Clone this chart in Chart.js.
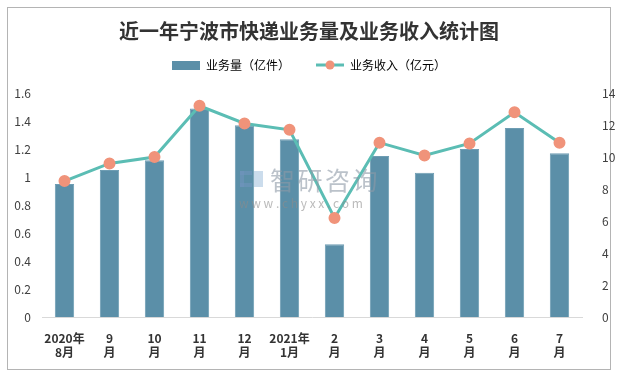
<!DOCTYPE html>
<html>
<head>
<meta charset="utf-8">
<script src="https://cdn.jsdelivr.net/npm/chart.js@4/dist/chart.umd.min.js"></script>
<style>
  body { margin: 0; background: #fff; }
  #wrap { width: 618px; height: 377px; position: relative; }
</style>
</head>
<body>
<div id="wrap"><canvas id="chart"></canvas></div>
<script>
const months = [
    ["2020年", "8月"], ["9", "月"], ["10", "月"], ["11", "月"], ["12", "月"],
    ["2021年", "1月"], ["2", "月"], ["3", "月"], ["4", "月"], ["5", "月"], ["6", "月"], ["7", "月"]
];
const volume = [0.95, 1.05, 1.12, 1.49, 1.37, 1.27, 0.52, 1.15, 1.03, 1.2, 1.35, 1.17];   // 业务量（亿件）
const revenue = [8.5, 9.6, 10.0, 13.2, 12.1, 11.7, 6.2, 10.9, 10.1, 10.85, 12.8, 10.9]; // 业务收入（亿元）

const fontFamily = "'Noto Sans CJK SC', 'Noto Sans', sans-serif";
const barColor = "#5b8fa8";
const lineColor = "#5bbdb4";
const dotColor = "#f0937a";

// legend icons
const barIcon = document.createElement("canvas");
barIcon.width = 28; barIcon.height = 9;
barIcon.getContext("2d").fillStyle = barColor;
barIcon.getContext("2d").fillRect(0, 0, 28, 9);

const lineIcon = document.createElement("canvas");
lineIcon.width = 28; lineIcon.height = 10;
(() => {
    const c = lineIcon.getContext("2d");
    c.strokeStyle = lineColor;
    c.lineWidth = 3;
    c.beginPath(); c.moveTo(0, 5); c.lineTo(28, 5); c.stroke();
    c.fillStyle = dotColor;
    c.beginPath(); c.arc(14, 5, 4.5, 0, Math.PI * 2); c.fill();
})();

// outer frame + watermark, legend height/position tweaks
const decor = {
    id: "decor",
    beforeInit(chart) {
        const fit = chart.legend.fit;
        chart.legend.fit = function () {
            fit.call(this);
            this.height = 50;
        };
    },
    afterLayout(chart) {
        chart.legend.top -= 10;
        chart.legend.bottom -= 10;
    },
    beforeDraw(chart) {
        const ctx = chart.ctx;
        ctx.save();
        ctx.fillStyle = "#fff";
        ctx.fillRect(0, 0, chart.width, chart.height);
        ctx.strokeStyle = "#b4b4b4";
        ctx.lineWidth = 1;
        ctx.strokeRect(7.5, 7.5, chart.width - 15, chart.height - 15);
        ctx.restore();
    },
    afterDatasetsDraw(chart) {
        const ctx = chart.ctx;
        ctx.save();
        ctx.globalAlpha = 0.6;
        ctx.fillStyle = "#8e9aa6";
        ctx.font = "25px " + fontFamily;
        ctx.textBaseline = "middle";
        ["智", "研", "咨", "询"].forEach((ch, i) => ctx.fillText(ch, 270 + i * 27.5, 180));
        ctx.font = "12px " + fontFamily;
        ctx.fillStyle = "#8c8c8c";
        ctx.fillText("w w w . c h y x x . c o m", 239, 203);
        ctx.fillStyle = "#6f95bd";
        ctx.fillRect(240, 171, 4, 16);
        ctx.fillRect(240, 171, 12, 4);
        ctx.fillRect(240, 183, 12, 4);
        ctx.fillStyle = "#a9c4e0";
        ctx.fillRect(254, 171, 9, 16);
        ctx.restore();
    }
};

new Chart(document.getElementById("chart"), {
    data: {
        labels: months,
        datasets: [
            {
                type: "line",
                label: "业务收入（亿元）",
                data: revenue,
                yAxisID: "y1",
                borderColor: lineColor,
                backgroundColor: dotColor,
                borderWidth: 3,
                pointRadius: 4.5,
                pointBackgroundColor: dotColor,
                pointBorderColor: dotColor,
                tension: 0,
                order: 0
            },
            {
                type: "bar",
                label: "业务量（亿件）",
                data: volume,
                yAxisID: "y",
                backgroundColor: barColor,
                borderColor: "#6e9db3",
                borderWidth: 1,
                barPercentage: 0.43,
                categoryPercentage: 1,
                order: 1
            }
        ]
    },
    options: {
        responsive: true,
        maintainAspectRatio: false,
        animation: false,
        layout: { padding: { top: 10, bottom: 11, left: 0, right: 0 } },
        plugins: {
            title: {
                display: true,
                text: "近一年宁波市快递业务量及业务收入统计图",
                color: "#333",
                font: { family: fontFamily, size: 20, weight: "bold" },
                padding: { top: 9, bottom: 0 }
            },
            legend: {
                display: true,
                reverse: true,
                labels: {
                    color: "#404040",
                    font: { family: fontFamily, size: 12 },
                    usePointStyle: true,
                    pointStyleWidth: 28,
                    padding: 26,
                    generateLabels(chart) {
                        return chart.data.datasets.map((ds, i) => ({
                            text: ds.label,
                            pointStyle: ds.type === "bar" ? barIcon : lineIcon,
                            fillStyle: ds.type === "bar" ? barColor : dotColor,
                            strokeStyle: "transparent",
                            lineWidth: 0,
                            datasetIndex: i,
                            hidden: false
                        }));
                    }
                }
            },
            tooltip: { enabled: false }
        },
        scales: {
            x: {
                grid: { display: false },
                border: { display: true, color: "#d9d9d9" },
                ticks: {
                    color: "#333",
                    maxRotation: 0,
                    autoSkip: false,
                    padding: 6,
                    font: { family: fontFamily, size: 12, weight: "bold" }
                }
            },
            y: {
                position: "left",
                min: 0,
                max: 1.6,
                grid: { display: false },
                border: { display: false },
                ticks: {
                    stepSize: 0.2,
                    color: "#404040",
                    font: { family: fontFamily, size: 12 },
                    callback: v => Math.round(v * 10) / 10
                },
                afterFit(scale) { scale.width = 42; }
            },
            y1: {
                position: "right",
                min: 0,
                max: 14,
                grid: { display: false },
                border: { display: false },
                ticks: {
                    stepSize: 2,
                    color: "#404040",
                    font: { family: fontFamily, size: 12 },
                    padding: 12
                },
                afterFit(scale) { scale.width = 36; }
            }
        }
    },
    plugins: [decor]
});
</script>
</body>
</html>
